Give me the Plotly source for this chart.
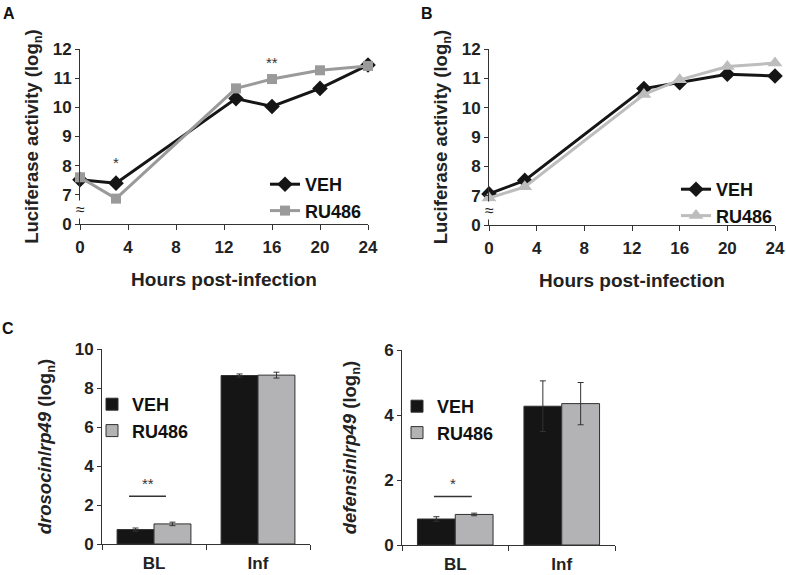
import plotly.graph_objects as go

# ---------------- data ----------------
hours = [0, 3, 13, 16, 20, 24]
a_veh = [7.52, 7.40, 10.30, 10.03, 10.65, 11.45]
a_ru = [7.60, 6.87, 10.65, 10.97, 11.27, 11.42]
b_veh = [7.06, 7.52, 10.65, 10.85, 11.14, 11.08]
b_ru = [6.92, 7.30, 10.45, 10.95, 11.40, 11.52]

y_ticks = [6, 7, 8, 9, 10, 11, 12]
y_ticktext = ["0", "7", "8", "9", "10", "11", "12"]
x_ticks = [0, 4, 8, 12, 16, 20, 24]

groups = ["BL", "Inf"]
dro_veh = [0.74, 8.64]
dro_veh_err = [0.08, 0.08]
dro_ru = [1.03, 8.66]
dro_ru_err = [0.09, 0.15]
def_veh = [0.80, 4.27]
def_veh_err = [0.07, 0.78]
def_ru = [0.94, 4.35]
def_ru_err = [0.04, 0.65]

FONT = "Liberation Sans, Arial, sans-serif"
AXC = "#333333"
BLACK = "#151515"
GREY_A = "#9a9a9a"
GREY_B = "#bdbdbd"
BAR_GREY = "#b3b3b5"

W, H = 786, 575
def px(x0, x1):
    return [x0 / W, x1 / W]
def py(top, bottom):
    return [1 - bottom / H, 1 - top / H]

fig = go.Figure()

# Panel A
fig.add_trace(go.Scatter(x=hours, y=a_veh, name="VEH", mode="lines+markers",
                         line=dict(color=BLACK, width=3),
                         marker=dict(symbol="diamond", size=12, color=BLACK),
                         xaxis="x", yaxis="y", legend="legend", cliponaxis=False))
fig.add_trace(go.Scatter(x=hours, y=a_ru, name="RU486", mode="lines+markers",
                         line=dict(color=GREY_A, width=3),
                         marker=dict(symbol="square", size=10, color=GREY_A),
                         xaxis="x", yaxis="y", legend="legend", cliponaxis=False))
# Panel B
fig.add_trace(go.Scatter(x=hours, y=b_veh, name="VEH", mode="lines+markers",
                         line=dict(color=BLACK, width=3),
                         marker=dict(symbol="diamond", size=12, color=BLACK),
                         xaxis="x2", yaxis="y2", legend="legend2", cliponaxis=False))
fig.add_trace(go.Scatter(x=hours, y=b_ru, name="RU486", mode="lines+markers",
                         line=dict(color=GREY_B, width=3),
                         marker=dict(symbol="triangle-up", size=13, color=GREY_B),
                         xaxis="x2", yaxis="y2", legend="legend2", cliponaxis=False))

# Panel C bars
def bar(x, y, err, name, color, xa, ya, lg):
    return go.Bar(x=x, y=y, name=name, marker=dict(color=color, line=dict(color="#303030", width=1)),
                  error_y=dict(type="data", array=err, color="#333333", thickness=1, width=3),
                  xaxis=xa, yaxis=ya, legend=lg)

fig.add_trace(bar(groups, dro_veh, dro_veh_err, "VEH", BLACK, "x3", "y3", "legend3"))
fig.add_trace(bar(groups, dro_ru, dro_ru_err, "RU486", BAR_GREY, "x3", "y3", "legend3"))
fig.add_trace(bar(groups, def_veh, def_veh_err, "VEH", BLACK, "x4", "y4", "legend4"))
fig.add_trace(bar(groups, def_ru, def_ru_err, "RU486", BAR_GREY, "x4", "y4", "legend4"))

tickfont = dict(family=FONT, size=17, color="#222", weight="bold")
titlefont = dict(family=FONT, size=19, color="#222", weight="bold")
ytitlefont = dict(family=FONT, size=18.5, color="#222", weight="bold")

def line_x(domain, anchor):
    return dict(domain=domain, anchor=anchor, range=[0, 24], tickvals=x_ticks, automargin=False,
                showline=True, linecolor=AXC, linewidth=1, ticks="outside", ticklen=5,
                ticklabelstandoff=3,
                tickcolor=AXC, showgrid=False, zeroline=False, tickfont=tickfont,
                title=dict(text="Hours post-infection", font=titlefont, standoff=16))

def line_y(domain, anchor):
    return dict(domain=domain, anchor=anchor, range=[6, 12], tickvals=y_ticks, ticktext=y_ticktext,
                automargin=False,
                showline=True, linecolor=AXC, linewidth=1, ticks="outside", ticklen=4,
                tickcolor=AXC, showgrid=False, zeroline=False, tickfont=tickfont,
                title=dict(text="Luciferase activity (log<sub>n</sub>)", font=ytitlefont, standoff=9))

def bar_x(domain, anchor):
    return dict(domain=domain, anchor=anchor, range=[-0.5, 1.5], tickson="boundaries",
                automargin=False, ticklabelstandoff=4,
                showline=True, linecolor=AXC, linewidth=1, ticks="outside", ticklen=5,
                tickcolor=AXC, showgrid=False, zeroline=False, tickfont=tickfont)

def bar_y(domain, anchor, rng, dtick, title, standoff):
    return dict(domain=domain, anchor=anchor, range=rng, dtick=dtick, automargin=False,
                showline=True, linecolor=AXC, linewidth=1, ticks="outside", ticklen=4,
                tickcolor=AXC, showgrid=False, zeroline=False, tickfont=tickfont,
                title=dict(text=title, font=ytitlefont, standoff=standoff))

legfont = dict(family=FONT, size=18, color="#111", weight="bold")

def leg(x, y, gap=0):
    return dict(x=x / W, y=1 - y / H, xanchor="left", yanchor="top", font=legfont,
                bgcolor="rgba(0,0,0,0)", itemwidth=30, tracegroupgap=gap, traceorder="normal")

fig.update_layout(
    width=W, height=H, margin=dict(l=0, r=0, t=0, b=0, autoexpand=False),
    paper_bgcolor="white", plot_bgcolor="white",
    font=dict(family=FONT, color="#222"),
    barmode="group", bargap=0.29, bargroupgap=0,
    xaxis=line_x(px(80, 368), "y"),
    yaxis=line_y(py(49, 224), "x"),
    xaxis2=line_x(px(489, 775), "y2"),
    yaxis2=line_y(py(49, 225), "x2"),
    xaxis3=bar_x(px(102, 310), "y3"),
    yaxis3=bar_y(py(349, 544), "x3", [0, 10], 2,
                 "<i>drosocin</i>/<i>rp49</i> (log<sub>n</sub>)", 18),
    xaxis4=bar_x(px(402, 615), "y4"),
    yaxis4=bar_y(py(350, 545), "x4", [0, 6], 2,
                 "<i>defensin</i>/<i>rp49</i> (log<sub>n</sub>)", 22),
    legend=leg(265, 166),
    legend2=leg(676, 171),
    legend3=leg(92, 386),
    legend4=leg(397, 388),
)

ann = []
for t, x, y in [("A", 9, 3), ("B", 427, 3), ("C", 8, 318)]:
    ann.append(dict(text=t, x=x / W, y=1 - y / H, xref="paper", yref="paper", showarrow=False,
                    xanchor="center", yanchor="top", font=dict(family=FONT, size=16, color="#111", weight="bold")))
# axis break marks
for xr, yr in [("x", "y"), ("x2", "y2")]:
    ann.append(dict(text="≈", x=0, y=6.5, xref=xr, yref=yr, showarrow=False,
                    font=dict(family=FONT, size=16, color="#222"), bgcolor="white", borderpad=0))
# significance
sig = dict(showarrow=False, font=dict(family=FONT, size=15, color="#333"))
ann.append(dict(text="*", x=3, y=8.1, xref="x", yref="y", **sig))
ann.append(dict(text="**", x=16, y=11.55, xref="x", yref="y", **sig))
ann.append(dict(text="**", x=-0.06, y=3.1, xref="x3", yref="y3", **sig))
ann.append(dict(text="*", x=-0.02, y=1.88, xref="x4", yref="y4", **sig))
fig.update_layout(annotations=ann)

fig.add_shape(type="line", x0=-0.24, x1=0.115, y0=2.45, y1=2.45, xref="x3", yref="y3",
              line=dict(color="#333", width=1.5))
fig.add_shape(type="line", x0=-0.2, x1=0.155, y0=1.49, y1=1.49, xref="x4", yref="y4",
              line=dict(color="#333", width=1.5))

fig.write_html("out.html", config={"displayModeBar": False},
               post_script="document.body.style.margin='0px';")
